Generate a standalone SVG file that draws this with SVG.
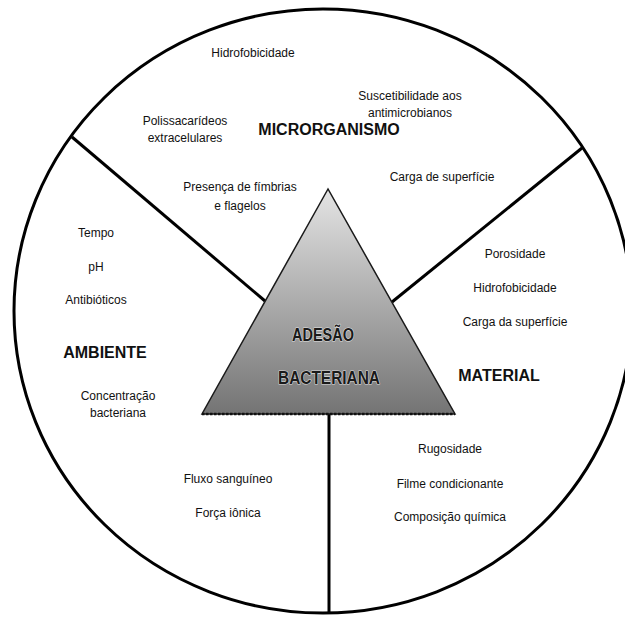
<svg xmlns="http://www.w3.org/2000/svg" width="625" height="617" viewBox="0 0 625 617">
  <style>
    .t { font-family: "Liberation Sans", Arial, sans-serif; font-size: 12px; fill: #111; text-anchor: middle; }
    .h { font-family: "Liberation Sans", Arial, sans-serif; font-size: 16px; font-weight: bold; fill: #111; text-anchor: middle; }
    .c { font-family: "Liberation Sans", Arial, sans-serif; font-size: 19px; font-weight: bold; fill: #1a1a1a; text-anchor: middle; stroke: #f2f2f2; stroke-width: 1.2px; stroke-opacity: 0.8; paint-order: stroke; stroke-linejoin: round; }
    .ln { stroke: #000; stroke-width: 3; fill: none; stroke-linecap: butt; }
  </style>
  <defs>
    <linearGradient id="tri" x1="0" y1="0" x2="0" y2="1">
      <stop offset="0" stop-color="#e4e4e4"/>
      <stop offset="1" stop-color="#747474"/>
    </linearGradient>
  </defs>
  <rect x="0" y="0" width="625" height="617" fill="#ffffff"/>
  <g id="outline">
    <ellipse cx="323" cy="311" rx="309" ry="302" class="ln"/>
  </g>
  <g id="connectors">
    <line x1="72" y1="137" x2="265" y2="301" class="ln"/>
    <line x1="582" y1="148" x2="392" y2="302" class="ln"/>
    <line x1="329" y1="414" x2="329" y2="612" class="ln"/>
  </g>
  <g id="center">
    <polygon points="328,189 202,414 455,414" fill="url(#tri)" stroke="#1a1a1a" stroke-width="1.5" stroke-linejoin="miter"/>
    <line x1="202" y1="414" x2="455" y2="414" stroke="#111" stroke-width="2.5" stroke-dasharray="2.5 1.5"/>
    <text class="c" x="323" y="341" textLength="62" lengthAdjust="spacingAndGlyphs">ADESÃO</text>
    <text class="c" x="329" y="384" textLength="102" lengthAdjust="spacingAndGlyphs">BACTERIANA</text>
  </g>
  <g id="microrganismo">
    <text class="h" x="329" y="135">MICRORGANISMO</text>
    <text class="t" x="253" y="57">Hidrofobicidade</text>
    <text class="t" x="410" y="100">Suscetibilidade aos</text>
    <text class="t" x="410" y="117">antimicrobianos</text>
    <text class="t" x="185" y="125">Polissacarídeos</text>
    <text class="t" x="185" y="142">extracelulares</text>
    <text class="t" x="442" y="181">Carga de superfície</text>
    <text class="t" x="240" y="191">Presença de fímbrias</text>
    <text class="t" x="240" y="210">e flagelos</text>
  </g>
  <g id="ambiente">
    <text class="h" x="105" y="358">AMBIENTE</text>
    <text class="t" x="96" y="237">Tempo</text>
    <text class="t" x="96" y="271">pH</text>
    <text class="t" x="96" y="304">Antibióticos</text>
    <text class="t" x="118" y="400">Concentração</text>
    <text class="t" x="118" y="417">bacteriana</text>
    <text class="t" x="228" y="483">Fluxo sanguíneo</text>
    <text class="t" x="228" y="517">Força iônica</text>
  </g>
  <g id="material">
    <text class="h" x="499" y="381">MATERIAL</text>
    <text class="t" x="515" y="258">Porosidade</text>
    <text class="t" x="515" y="292">Hidrofobicidade</text>
    <text class="t" x="515" y="326">Carga da superfície</text>
    <text class="t" x="450" y="453">Rugosidade</text>
    <text class="t" x="450" y="488">Filme condicionante</text>
    <text class="t" x="450" y="521">Composição química</text>
  </g>
</svg>
